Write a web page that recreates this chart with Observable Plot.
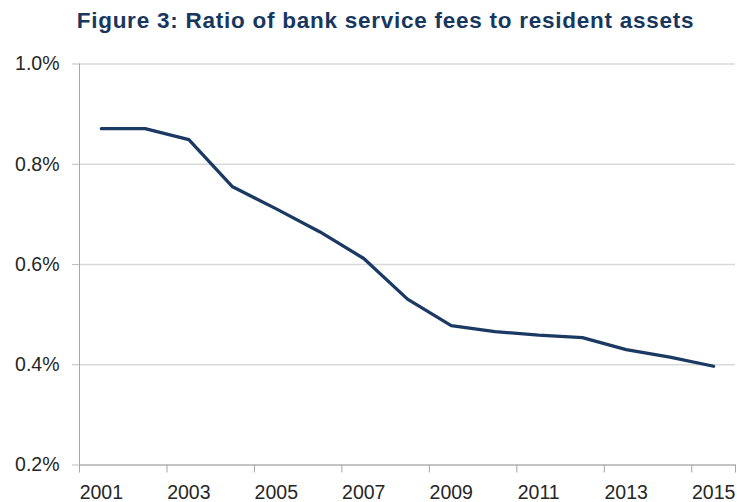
<!DOCTYPE html>
<html>
<head>
<meta charset="utf-8">
<script src="https://cdn.jsdelivr.net/npm/d3@7"></script>
<script src="https://cdn.jsdelivr.net/npm/@observablehq/plot@0.6"></script>
<style>
  html, body { margin: 0; padding: 0; background: #fff; }
  #title { height: 40px; width: 737px; box-sizing: border-box; padding-left: 34px; text-align: center;
    font-family: "Liberation Sans", Arial, sans-serif; font-weight: bold; font-size: 22.5px; letter-spacing: 0.75px;
    color: #17375E; line-height: 22px; padding-top: 10px; white-space: nowrap; }
</style>
</head>
<body>
<div id="title">Figure 3: Ratio of bank service fees to resident assets</div>
<div id="chart"></div>
<script>
const years = [2001, 2002, 2003, 2004, 2005, 2006, 2007, 2008, 2009, 2010, 2011, 2012, 2013, 2014, 2015];
const ratio = [0.871, 0.871, 0.849, 0.755, 0.711, 0.665, 0.612, 0.531, 0.478, 0.466, 0.459, 0.454, 0.430, 0.415, 0.397];
const yTicks = [0.2, 0.4, 0.6, 0.8, 1.0];
const xLabels = [2001, 2003, 2005, 2007, 2009, 2011, 2013, 2015];

const data = years.map((y, i) => ({year: y, value: ratio[i]}));
const xBounds = xLabels.map(y => y - 0.5).concat([years[years.length - 1] + 0.5]);

const chart = Plot.plot({
  width: 737,
  height: 462,
  marginLeft: 79,
  marginRight: 2,
  marginTop: 23.5,
  marginBottom: 37.5,
  style: {fontFamily: "'Liberation Sans', Arial, sans-serif", fontSize: "19.5px", color: "#262626", background: "#fff"},
  x: {domain: [years[0] - 0.5, years[years.length - 1] + 0.5]},
  y: {domain: [yTicks[0], yTicks[yTicks.length - 1]]},
  marks: [
    Plot.gridY(yTicks, {stroke: "#d9d9d9", strokeOpacity: 1, strokeWidth: 1.5}),
    Plot.axisY({ticks: yTicks, tickSize: 7, tickPadding: 13, stroke: "#bfbfbf", tickFormat: d => d.toFixed(1) + "%", label: null}),
    Plot.axisX({ticks: xBounds, tickSize: 8, stroke: "#a6a6a6", tickFormat: () => "", label: null}),
    Plot.axisX({ticks: xLabels, tickSize: 0, tickPadding: 20, tickFormat: d => String(d), label: null}),
    Plot.frame({anchor: "left", stroke: "#a6a6a6"}),
    Plot.frame({anchor: "bottom", stroke: "#a6a6a6"}),
    Plot.line(data, {x: "year", y: "value", stroke: "#1B3A63", strokeWidth: 3.3})
  ]
});
document.getElementById("chart").appendChild(chart);
</script>
</body>
</html>
